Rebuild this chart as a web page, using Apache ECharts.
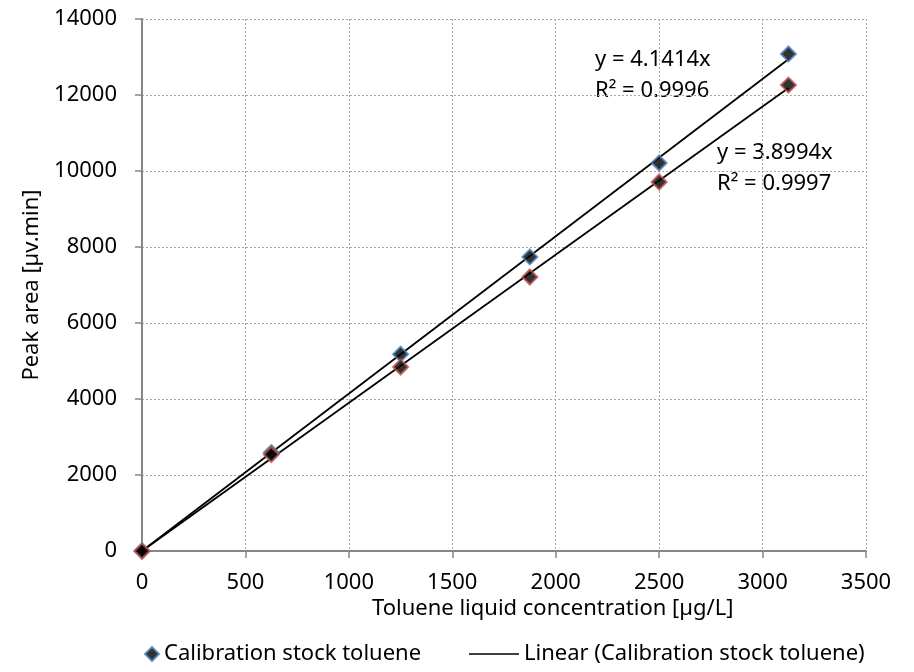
<!DOCTYPE html>
<html>
<head>
<meta charset="utf-8">
<script src="https://cdn.jsdelivr.net/npm/echarts@6/dist/echarts.min.js"></script>
<style>
  html, body { margin: 0; padding: 0; background: #fff; }
  #chart { width: 914px; height: 672px; }
</style>
</head>
<body>
<div id="chart"></div>
<script>
// Calibration concentrations (µg/L) and measured peak areas (µv.min)
const concentrations = [0, 625, 1250, 1875, 2500, 3125];
const areaStockA = [0, 2590, 5180, 7740, 10210, 13080];
const areaStockB = [0, 2540, 4840, 7210, 9710, 12260];

// Linear fits forced through the origin
const slopeA = 4.1414;
const slopeB = 3.8994;
const fitLabelA = ['y = 4.1414x', 'R² = 0.9996'];
const fitLabelB = ['y = 3.8994x', 'R² = 0.9997'];

const xTitle = 'Toluene liquid concentration [µg/L]';
const yTitle = 'Peak area [µv.min]';
const legendPoints = 'Calibration stock toluene';
const legendFit = 'Linear (Calibration stock toluene)';

const FONT = '"Noto Sans", "Open Sans", sans-serif';
const FS = 22;

const pairs = (xs, ys) => xs.map((x, i) => [x, ys[i]]);
const lastX = concentrations[concentrations.length - 1];
const fitLine = (k) => [[0, 0], [lastX, k * lastX]];

const chart = echarts.init(document.getElementById('chart'), null, { renderer: 'canvas' });

const diamond = (color) => ({
  type: 'scatter',
  symbol: 'diamond',
  symbolSize: 15,
  itemStyle: { color: '#000', borderColor: color, borderWidth: 2 },
  z: 5
});

const axisCommon = {
  type: 'value',
  axisLine: { show: true, onZero: false, lineStyle: { color: '#868686', width: 2 } },
  axisTick: { show: true, length: 7, lineStyle: { color: '#868686', width: 1.5 } },
  splitLine: { show: true, lineStyle: { color: '#a6a6a6', type: [2, 2], width: 1 } }
};

chart.setOption({
  animation: false,
  backgroundColor: '#fff',
  textStyle: { fontFamily: FONT },
  grid: { left: 142, right: 48, top: 19, bottom: 121, containLabel: false },
  xAxis: Object.assign({}, axisCommon, {
    min: 0, max: 3500, interval: 500,
    axisLabel: { fontSize: FS, color: '#000', margin: 21, fontFamily: FONT, formatter: (v) => String(v) }
  }),
  yAxis: Object.assign({}, axisCommon, {
    min: 0, max: 14000, interval: 2000,
    name: yTitle,
    nameLocation: 'middle', nameGap: 96, nameRotate: 90,
    nameTextStyle: { fontSize: FS, color: '#000', fontFamily: FONT },
    axisLabel: { fontSize: FS, color: '#000', margin: 25, fontFamily: FONT, formatter: (v) => String(v) }
  }),
  legend: [
    {
      top: 638, left: 139,
      itemWidth: 14, itemHeight: 14,
      textStyle: { fontSize: FS, color: '#000', fontFamily: FONT },
      data: [{ name: legendPoints, icon: 'diamond', itemStyle: { color: '#000', borderColor: '#4f81bd', borderWidth: 2 } }]
    },
    {
      top: 638, left: 464,
      itemWidth: 50, itemHeight: 14,
      textStyle: { fontSize: FS, color: '#000', fontFamily: FONT },
      data: [{ name: legendFit, icon: 'path://M0,6.2 L50,6.2 L50,7.8 L0,7.8 Z', itemStyle: { color: '#000' } }]
    }
  ],
  series: [
    {
      name: legendFit, type: 'line',
      data: fitLine(slopeA), symbol: 'none',
      lineStyle: { color: '#000', width: 1.8 }, itemStyle: { color: '#000' }, z: 3
    },
    {
      name: 'Linear fit B', type: 'line',
      data: fitLine(slopeB), symbol: 'none',
      lineStyle: { color: '#000', width: 1.8 }, z: 3
    },
    Object.assign(diamond('#4f81bd'), { name: legendPoints, data: pairs(concentrations, areaStockA) }),
    Object.assign(diamond('#c0504d'), { name: 'Calibration stock B', data: pairs(concentrations, areaStockB) })
  ],
  graphic: [
    { type: 'text', left: 372, top: 598, style: { text: xTitle, font: FS + 'px ' + FONT, fill: '#000' } },
    { type: 'text', left: 595, top: 44, style: { text: fitLabelA.join('\n'), font: FS + 'px ' + FONT, fill: '#000', lineHeight: 31 } },
    { type: 'text', left: 717, top: 137, style: { text: fitLabelB.join('\n'), font: FS + 'px ' + FONT, fill: '#000', lineHeight: 31 } }
  ]
});
</script>
</body>
</html>
